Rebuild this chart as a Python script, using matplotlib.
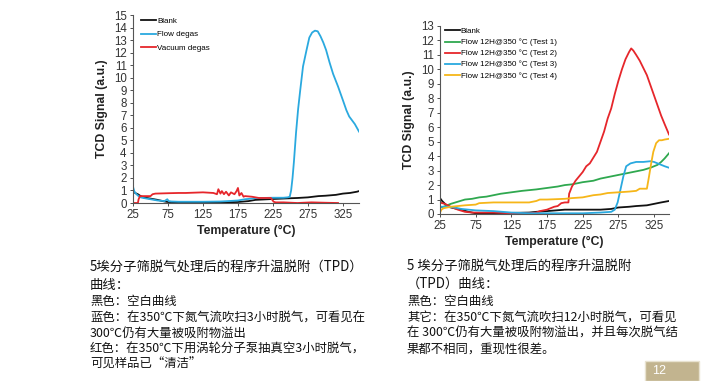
import matplotlib
matplotlib.use("Agg")
import matplotlib.pyplot as plt
from matplotlib.patches import Rectangle

plt.rcParams['font.family'] = ['Liberation Sans', 'DejaVu Sans']

# ---------------- Left chart data ----------------
blank_l_x = [25, 28, 32, 36, 40, 50, 60, 70, 75, 100, 150, 175, 190, 200, 225, 250, 260, 275, 290, 300, 315, 325, 335, 345, 348]
blank_l_y = [1.0, 0.8, 0.7, 0.55, 0.45, 0.35, 0.25, 0.12, 0.08, 0.05, 0.05, 0.08, 0.15, 0.25, 0.32, 0.38, 0.4, 0.45, 0.55, 0.58, 0.65, 0.75, 0.8, 0.9, 0.95]

flow_x = [25, 27, 30, 33, 36, 40, 45, 50, 55, 60, 65, 70, 74, 76, 80, 90, 100, 125, 150, 160, 175, 185, 195, 200, 210, 225, 240, 246,
          249, 251, 253, 255, 258, 261, 264, 268, 273, 277, 281, 285, 289, 293, 297, 301, 306, 311, 318, 325, 330, 334, 338, 342, 345, 348]
flow_y = [1.3, 0.9, 0.7, 0.55, 0.45, 0.4, 0.35, 0.3, 0.25, 0.2, 0.18, 0.15, 0.3, 0.15, 0.12, 0.1, 0.1, 0.1, 0.12, 0.15, 0.2, 0.3, 0.35, 0.4, 0.4, 0.42, 0.42, 0.45,
          0.5, 1.0, 2.0, 3.3, 5.6, 7.5, 9.0, 10.9, 12.2, 13.2, 13.6, 13.75, 13.7, 13.3, 12.8, 12.2, 11.2, 10.3, 9.3, 8.2, 7.4, 6.9, 6.6, 6.3, 6.0, 5.7]

vac_x = [25, 32, 33, 35, 45, 50, 53, 57, 75, 90, 100, 125, 140, 145, 147, 150, 152, 155, 158, 162, 165, 170, 173, 175, 177, 180, 183,
         185, 195, 200, 205, 215, 222, 226, 229, 240, 260, 280, 300, 318]
vac_y = [0.0, 0.0, 0.3, 0.55, 0.55, 0.55, 0.7, 0.75, 0.78, 0.8, 0.8, 0.85, 0.8, 0.7, 1.1, 0.75, 0.95, 0.7, 0.9, 0.6, 0.85, 0.7, 0.95, 1.2, 0.6,
         0.8, 0.5, 0.55, 0.5, 0.45, 0.4, 0.4, 0.4, 0.1, 0.05, 0.05, 0.0, 0.05, 0.02, 0.0]

# ---------------- Right chart data ----------------
blank_r_x = [25, 28, 32, 36, 45, 55, 65, 75, 100, 150, 160, 175, 200, 225, 250, 265, 275, 290, 300, 315, 325, 335, 346]
blank_r_y = [1.1, 0.9, 0.7, 0.5, 0.4, 0.3, 0.15, 0.05, 0.05, 0.1, 0.15, 0.2, 0.3, 0.3, 0.3, 0.35, 0.45, 0.5, 0.55, 0.6, 0.7, 0.8, 0.9]

t1_x = [25, 30, 35, 40, 50, 60, 70, 80, 90, 100, 110, 125, 140, 150, 160, 175, 190, 200, 210, 225, 240, 250, 260, 275, 290, 300, 310, 320, 330, 335, 340, 346]
t1_y = [0.45, 0.5, 0.6, 0.7, 0.85, 1.0, 1.05, 1.15, 1.2, 1.3, 1.4, 1.5, 1.6, 1.65, 1.7, 1.8, 1.9, 2.0, 2.05, 2.2, 2.3, 2.45, 2.55, 2.7, 2.85, 2.95, 3.05, 3.2, 3.4, 3.6, 3.85, 4.2]

t2_x = [25, 28, 32, 36, 40, 50, 60, 70, 80, 100, 125, 150, 160, 165, 175, 180, 185, 190, 195, 200, 205, 206, 210, 215, 220, 225, 230, 235,
        240, 245, 250, 255, 260, 265, 270, 275, 280, 285, 290, 293, 296, 300, 305, 310, 315, 320, 325, 330, 335, 340, 346]
t2_y = [0.8, 0.75, 0.7, 0.6, 0.5, 0.3, 0.15, 0.1, 0.1, 0.1, 0.05, 0.05, 0.1, 0.2, 0.3, 0.4, 0.5, 0.55, 0.75, 0.8, 0.8, 1.4, 1.9, 2.3, 2.6, 2.9, 3.3, 3.5,
        3.9, 4.3, 5.0, 5.7, 6.6, 7.3, 8.3, 9.2, 10.0, 10.7, 11.2, 11.45, 11.3, 11.0, 10.6, 10.1, 9.6, 8.9, 8.2, 7.5, 6.8, 6.2, 5.5]

t3_x = [25, 35, 45, 55, 65, 75, 100, 125, 150, 175, 200, 225, 250, 265, 270, 274, 278, 282, 286, 292, 300, 310, 320, 325, 330, 335, 340, 346]
t3_y = [0.5, 0.5, 0.45, 0.35, 0.3, 0.25, 0.2, 0.1, 0.05, 0.05, 0.05, 0.05, 0.1, 0.15, 0.3, 0.8, 1.7, 2.6, 3.3, 3.5, 3.6, 3.6, 3.65, 3.6, 3.5, 3.4, 3.3, 3.2]

t4_x = [25, 27, 30, 35, 40, 50, 60, 75, 80, 100, 125, 150, 160, 165, 175, 200, 210, 225, 240, 250, 260, 275, 290, 300, 305, 310, 315, 318, 321, 324, 328, 332, 336, 340, 346]
t4_y = [0.1, 0.3, 0.4, 0.45, 0.5, 0.55, 0.6, 0.65, 0.75, 0.8, 0.8, 0.8, 0.9, 1.0, 1.0, 1.05, 1.1, 1.15, 1.3, 1.35, 1.45, 1.5, 1.55, 1.6, 1.75, 1.75, 1.75, 2.6, 3.5, 4.3, 4.9, 5.1, 5.1, 5.15, 5.2]

x_ticks = [25, 75, 125, 175, 225, 275, 325]
left_labels = ["Blank", "Flow degas", "Vacuum degas"]
right_labels = ["Blank", "Flow 12H@350 °C (Test 1)", "Flow 12H@350 °C (Test 2)",
                "Flow 12H@350 °C (Test 3)", "Flow 12H@350 °C (Test 4)"]

left_text = ["5埃分子筛脱气处理后的程序升温脱附（TPD）", "曲线：", "黑色：空白曲线",
             "蓝色：在350℃下氮气流吹扫3小时脱气，可看见在", "300℃仍有大量被吸附物溢出",
             "红色：在350℃下用涡轮分子泵抽真空3小时脱气，", "可见样品已“清洁”"]
right_text = ["5 埃分子筛脱气处理后的程序升温脱附", "（TPD）曲线：", "黑色：空白曲线",
              "其它：在350℃下氮气流吹扫12小时脱气，可看见",
              "在 300℃仍有大量被吸附物溢出，并且每次脱气结", "果都不相同，重现性很差。"]

BLACK = "#111111"
BLUE = "#2aa9df"
RED = "#e6262b"
GREEN = "#2fa84f"
YELLOW = "#f6b619"

W, H = 713, 381
fig = plt.figure(figsize=(W / 100, H / 100), dpi=100)


def px_axes(l, r, t, b):
    return fig.add_axes([l / W, 1 - b / H, (r - l) / W, (b - t) / H])


def style(ax, ymax, xmax):
    ax.set_xlim(25, xmax)
    ax.set_ylim(0, ymax)
    ax.set_xticks(x_ticks)
    ax.set_yticks(range(0, ymax + 1))
    for s in ["top", "right"]:
        ax.spines[s].set_visible(False)
    for s in ["left", "bottom"]:
        ax.spines[s].set_color("#555555")
        ax.spines[s].set_linewidth(0.8)
    ax.tick_params(labelsize=8.3, colors="#333333", length=2.5, width=0.6, pad=2)
    ax.set_xlabel("Temperature (°C)", fontsize=8.8, fontweight="bold", color="#222222", labelpad=3)
    ax.set_ylabel("TCD Signal (a.u.)", fontsize=8.8, fontweight="bold", color="#222222", labelpad=4)


ax1 = px_axes(133, 359, 15, 203)
ax1.plot(blank_l_x, blank_l_y, color=BLACK, lw=1.3, label=left_labels[0])
ax1.plot(flow_x, flow_y, color=BLUE, lw=1.3, label=left_labels[1])
ax1.plot(vac_x, vac_y, color=RED, lw=1.3, label=left_labels[2])
style(ax1, 15, 348)
ax1.legend(loc="upper left", bbox_to_anchor=(0.03, 0.995), frameon=False, fontsize=5.8,
           handlelength=1.8, handletextpad=0.15, labelspacing=0.7, borderaxespad=0, borderpad=0.2)

ax2 = px_axes(440, 669, 26, 214)
ax2.plot(blank_r_x, blank_r_y, color=BLACK, lw=1.3, label=right_labels[0])
ax2.plot(t1_x, t1_y, color=GREEN, lw=1.3, label=right_labels[1])
ax2.plot(t2_x, t2_y, color=RED, lw=1.3, label=right_labels[2])
ax2.plot(t3_x, t3_y, color=BLUE, lw=1.3, label=right_labels[3])
ax2.plot(t4_x, t4_y, color=YELLOW, lw=1.3, label=right_labels[4])
style(ax2, 13, 346)
ax2.legend(loc="upper left", bbox_to_anchor=(0.015, 1.0), frameon=False, fontsize=5.8,
           handlelength=1.8, handletextpad=0.15, labelspacing=0.42, borderaxespad=0, borderpad=0.2)

cjk = ['Noto Sans CJK SC', 'DejaVu Sans']
left_y = [267, 285, 302, 318, 333, 349, 364]
for i, (t, y) in enumerate(zip(left_text, left_y)):
    fig.text(90 / W, 1 - y / H, t, family=cjk, fontsize=9.6 if i < 2 else 8.9,
             va="center", ha="left", color="#111111")
right_y = [266, 284, 302, 318, 333, 349]
for i, (t, y) in enumerate(zip(right_text, right_y)):
    fig.text(407 / W, 1 - y / H, t, family=cjk, fontsize=9.6 if i < 2 else 8.9,
             va="center", ha="left", color="#111111")

fig.patches.append(Rectangle((645 / W, 0), 54 / W, 20 / H, transform=fig.transFigure,
                             facecolor="#c2b48f", edgecolor="#e8e2d0", linewidth=1.0))
fig.text(652 / W, 1 - 371 / H, "12", fontsize=9, color="white", va="center", ha="left")

fig.savefig("out.png", dpi=100)
